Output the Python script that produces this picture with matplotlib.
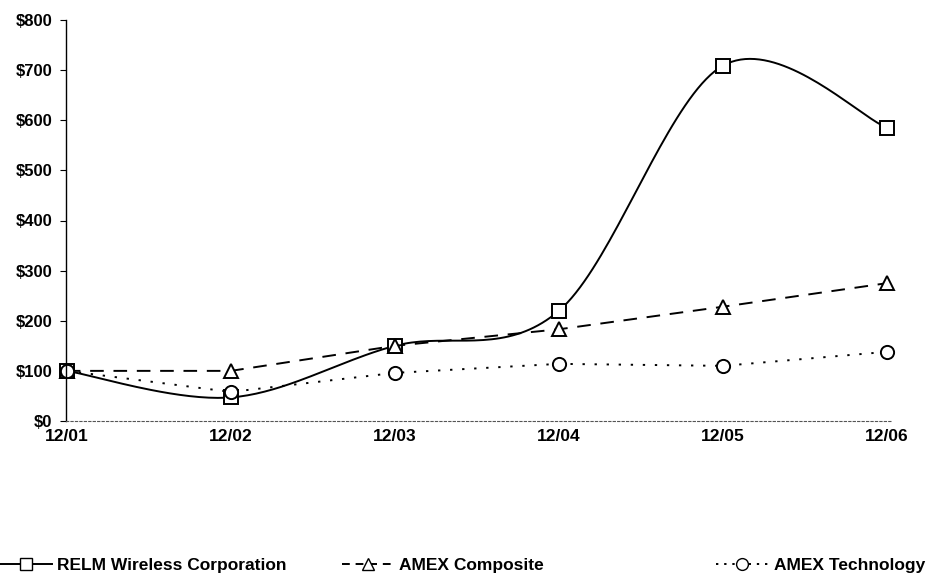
import numpy as np
import matplotlib.pyplot as plt
from matplotlib.lines import Line2D

plt.rcParams['font.family'] = ['Liberation Sans', 'DejaVu Sans']
plt.rcParams['font.weight'] = 'bold'

# data
dates = ['12/01', '12/02', '12/03', '12/04', '12/05', '12/06']
relm = [100, 47, 150, 220, 709, 585]
amex_comp = [100, 100, 150, 183, 228, 275]
amex_tech = [100, 58, 96, 114, 110, 138]
y_ticks = [0, 100, 200, 300, 400, 500, 600, 700, 800]


# Excel-style smoothed line (cubic bezier between points)
def smooth(x, y, n=40):
    x = np.asarray(x, float)
    y = np.asarray(y, float)
    px = np.concatenate([[x[0]], x, [x[-1]]])
    py = np.concatenate([[y[0]], y, [y[-1]]])
    t = np.linspace(0, 1, n)
    xs, ys = [], []
    for i in range(len(x) - 1):
        j = i + 1
        p0 = np.array([px[j], py[j]])
        p3 = np.array([px[j + 1], py[j + 1]])
        p1 = p0 + (p3 - np.array([px[j - 1], py[j - 1]])) / 6
        p2 = p3 - (np.array([px[j + 2], py[j + 2]]) - p0) / 6
        b = ((1 - t) ** 3)[:, None] * p0 + (3 * (1 - t) ** 2 * t)[:, None] * p1 \
            + (3 * (1 - t) * t ** 2)[:, None] * p2 + (t ** 3)[:, None] * p3
        xs.append(b[:, 0])
        ys.append(b[:, 1])
    return np.concatenate(xs), np.concatenate(ys)


x = np.arange(len(dates))

fig = plt.figure(figsize=(9.45, 5.77), dpi=100)
ax = fig.add_axes([66 / 945, 1 - 421 / 577, (892 - 66) / 945, (421 - 20) / 577])

mk = dict(ms=9.5, mfc='white', mec='black', mew=1.4, clip_on=False)
sx, sy = smooth(x, relm)
ax.plot(sx, sy, color='black', lw=1.4, clip_on=False)
ax.plot(x, relm, ls='none', marker='s', **mk)

ax.plot(x, amex_comp, color='black', lw=1.4, ls=(0, (7, 5)), marker='^', **mk)
ax.plot(x, amex_tech, color='black', lw=1.4, ls=(0, (1.2, 5)), marker='o', **mk)

ax.set_xlim(-0.005, 5.03)
ax.set_ylim(0, 800)
ax.set_yticks(y_ticks)
ax.set_yticklabels(['$%d' % v for v in y_ticks], fontsize=12, fontweight='bold')
ax.set_xticks(x)
ax.set_xticklabels(dates, fontsize=12.5, fontweight='bold')
ax.tick_params(axis='x', length=0, pad=6)
ax.tick_params(axis='y', length=4, width=0.8, pad=6)

for s in ['top', 'right']:
    ax.spines[s].set_visible(False)
ax.spines['left'].set_linewidth(1.0)
ax.spines['bottom'].set_linestyle((0, (2, 2)))
ax.spines['bottom'].set_linewidth(0.8)
ax.spines['bottom'].set_color('#555555')

# legend entries spread across the bottom
entries = [
    (Line2D([], [], color='black', lw=1.4, marker='s', ms=8.5, mfc='white', mec='black'),
     'RELM Wireless Corporation', 0.0),
    (Line2D([], [], color='black', lw=1.4, ls=(0, (4, 3)), marker='^', ms=8.5, mfc='white', mec='black'),
     'AMEX Composite', 0.362),
    (Line2D([], [], color='black', lw=1.4, ls=(0, (1.2, 3)), marker='o', ms=8.5, mfc='white', mec='black'),
     'AMEX Technology', 0.758),
]
for h, lab, xpos in entries:
    fig.legend([h], [lab], loc='center left', bbox_to_anchor=(xpos, 0.02),
               frameon=False, handlelength=3.0, handletextpad=0.3,
               borderaxespad=0, borderpad=0, prop={'weight': 'bold', 'size': 12.5})

fig.savefig('out.png', dpi=100)
